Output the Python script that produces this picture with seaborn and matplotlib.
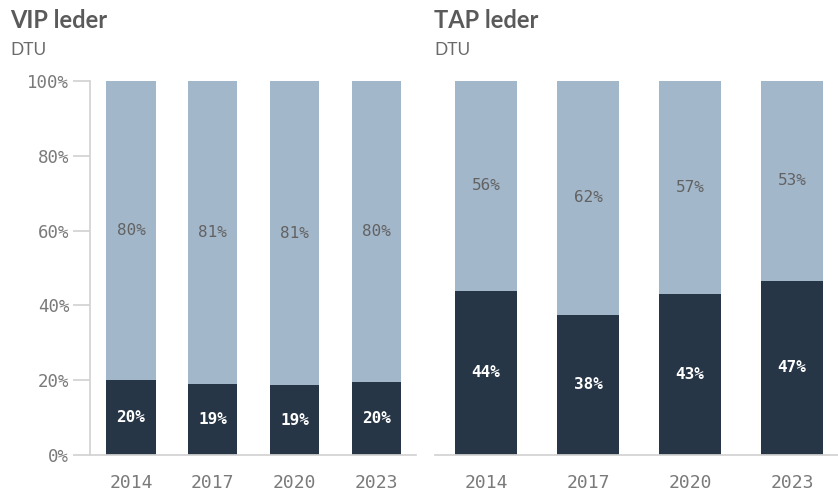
import matplotlib
matplotlib.use("Agg")
import matplotlib.pyplot as plt
import seaborn as sns
import pandas as pd

years = ["2014", "2017", "2020", "2023"]
vip_dark = [20.1, 19.0, 18.6, 19.5]
vip_light = [79.9, 81.0, 81.4, 80.5]
tap_dark = [43.9, 37.5, 43.0, 46.6]
tap_light = [56.1, 62.5, 57.0, 53.4]
y_ticks = [0, 20, 40, 60, 80, 100]
titles = ["VIP leder", "TAP leder"]
subtitle = "DTU"

DARK = "#273646"
LIGHT = "#a3b7cb"
AXC = "#d3d3d3"
TXT = "#7a7a7a"

sns.set_theme(style="white")
plt.rcParams["font.family"] = ["DejaVu Sans"]

W, H = 838, 493
fig = plt.figure(figsize=(W / 100, H / 100), dpi=100)

def px_axes(x0, x1, y0, y1):
    return fig.add_axes([x0 / W, 1 - y1 / H, (x1 - x0) / W, (y1 - y0) / H])

ax1 = px_axes(90, 416, 81, 455)
ax2 = px_axes(435, 838, 81, 455)

mono = "DejaVu Sans Mono"

def draw(ax, dark, light, xlim):
    df = pd.DataFrame({"year": years, "dark": dark, "light": light})
    df["total"] = df["dark"] + df["light"]
    sns.barplot(data=df, x="year", y="total", color=LIGHT, width=0.6,
                linewidth=0, saturation=1, ax=ax, errorbar=None)
    sns.barplot(data=df, x="year", y="dark", color=DARK, width=0.6,
                linewidth=0, saturation=1, ax=ax, errorbar=None)
    for i, (d, l) in enumerate(zip(dark, light)):
        ax.text(i, d / 2, f"{round(d)}%", ha="center", va="center",
                color="white", fontsize=11.5, fontweight="bold", family=mono)
        ax.text(i, d + l / 2, f"{round(l)}%", ha="center", va="center",
                color="#626262", fontsize=11.5, family=mono)
    ax.set_ylim(0, 100)
    ax.set_xlim(*xlim)
    ax.set_xlabel("")
    ax.set_ylabel("")
    for s in ax.spines.values():
        s.set_visible(False)
    ax.spines["bottom"].set_visible(True)
    ax.spines["bottom"].set_color(AXC)
    ax.tick_params(axis="x", length=0, pad=14, labelsize=13, labelcolor=TXT)
    for t in ax.get_xticklabels():
        t.set_family(mono)

draw(ax1, vip_dark, vip_light, (-0.5, 3.48))
draw(ax2, tap_dark, tap_light, (-0.5, 3.45))

ax1.spines["left"].set_visible(True)
ax1.spines["left"].set_color(AXC)
ax1.set_yticks(y_ticks)
ax1.set_yticklabels([f"{v}%" for v in y_ticks], family=mono)
ax1.tick_params(axis="y", left=True, length=12, color=AXC, pad=3,
                labelsize=12.5, labelcolor=TXT)
ax2.set_yticks([])

for x, t in zip([10, 434], titles):
    fig.text(x / W, 1 - 28 / H, t, fontsize=17, fontweight="bold",
             color="#5a5a5a", family=["Lato", "DejaVu Sans"], ha="left", va="baseline")
    fig.text(x / W, 1 - 55 / H, subtitle, fontsize=12.5, color="#6a6a6a",
             family=["Lato", "DejaVu Sans"], ha="left", va="baseline")

fig.savefig("out.png", dpi=100)
